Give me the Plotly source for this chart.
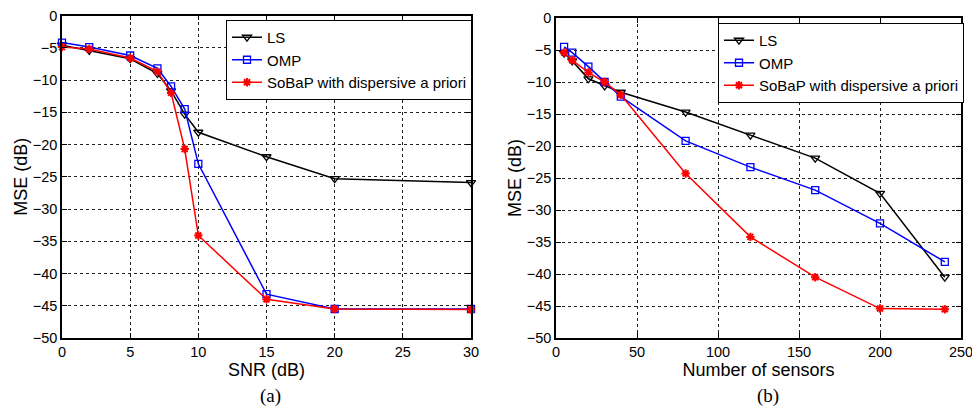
import plotly.graph_objects as go

# ---- data: panel (a) MSE vs SNR ----
snr = [0, 2, 5, 7, 8, 9, 10, 15, 20, 30]
ls_a = [-4.6, -5.4, -6.7, -9.0, -11.7, -15.3, -18.1, -21.9, -25.3, -25.9]
omp_a = [-4.2, -4.9, -6.2, -8.2, -11.0, -14.5, -23.0, -43.2, -45.5, -45.5]
sobap_a = [-4.9, -5.2, -6.6, -8.7, -12.0, -20.7, -34.1, -44.0, -45.5, -45.6]

# ---- data: panel (b) MSE vs number of sensors ----
sensors = [5, 10, 20, 30, 40, 80, 120, 160, 200, 240]
ls_b = [-5.5, -6.7, -9.5, -10.6, -11.6, -14.7, -18.3, -21.9, -27.4, -40.5]
omp_b = [-4.5, -5.4, -7.6, -10.0, -12.3, -19.2, -23.3, -26.9, -32.1, -38.1]
sobap_b = [-5.4, -6.6, -8.5, -10.0, -12.0, -24.3, -34.2, -40.5, -45.4, -45.5]

names = ["LS", "OMP", "SoBaP with dispersive a priori"]
colors = ["#000000", "#0000ff", "#ff0000"]
symbols = ["triangle-down-open", "square-open", "asterisk-open"]
msizes = [8, 7, 7]

xticks_a = [0, 5, 10, 15, 20, 25, 30]
xticks_b = [0, 50, 100, 150, 200, 250]
yticks = [0, -5, -10, -15, -20, -25, -30, -35, -40, -45, -50]

# body margin is removed by the post script, so the figure fills the window
W, H = 972, 409


def px(x):
    return x / W


def py(y):
    return 1 - y / H


fig = go.Figure()


def add(xs, ys, i, xa, ya, leg):
    fig.add_trace(go.Scatter(
        x=xs, y=ys, name=names[i], mode="lines+markers",
        line=dict(color=colors[i], width=1.5),
        marker=dict(symbol=symbols[i], size=msizes[i], color=colors[i],
                    line=dict(color=colors[i], width=2 if i == 2 else 1.3)),
        xaxis=xa, yaxis=ya, legend=leg, cliponaxis=False))


for i, ys in enumerate([ls_a, omp_a, sobap_a]):
    add(snr, ys, i, "x", "y", "legend")
for i, ys in enumerate([ls_b, omp_b, sobap_b]):
    add(sensors, ys, i, "x2", "y2", "legend2")

font_tick = dict(family="Liberation Sans, Arial, sans-serif", size=14.5, color="black")
font_title = dict(family="Liberation Sans, Arial, sans-serif", size=18, color="black")


def xax(dom, rng, ticks, title, anchor):
    return dict(domain=dom, range=rng, tickvals=ticks, ticktext=[str(t) for t in ticks],
                showline=True, linecolor="black", linewidth=1.5, mirror="allticks",
                ticks="inside", ticklen=5, tickcolor="black", tickwidth=1,
                showgrid=True, gridcolor="#222", griddash="dot", gridwidth=1,
                zeroline=False, tickfont=font_tick, anchor=anchor, automargin=False,
                ticklabeloverflow="allow",
                title=dict(text=title, font=font_title, standoff=0))


def yax(dom, anchor, title):
    return dict(domain=dom, range=[-50, 0], tickvals=yticks,
                showline=True, linecolor="black", linewidth=1.5, mirror="allticks",
                ticks="inside", ticklen=5, tickcolor="black", tickwidth=1,
                showgrid=True, gridcolor="#222", griddash="dot", gridwidth=1,
                zeroline=False, tickfont=font_tick, anchor=anchor, automargin=False,
                ticklabeloverflow="allow",
                title=dict(text=title, font=font_title, standoff=0))


legfont = dict(family="Liberation Sans, Arial, sans-serif", size=15, color="black")
capfont = dict(family="Liberation Serif, Times New Roman, serif", size=19, color="black")

fig.update_layout(
    width=W, height=H, margin=dict(l=0, r=0, t=0, b=0),
    paper_bgcolor="white", plot_bgcolor="white", showlegend=True,
    xaxis=xax([px(62), px(471)], [0, 30], xticks_a, "SNR (dB)", "y"),
    yaxis=yax([py(338), py(15.5)], "x", "MSE (dB)"),
    xaxis2=xax([px(556), px(961)], [0, 250], xticks_b, "Number of sensors", "y2"),
    yaxis2=yax([py(338), py(18)], "x2", "MSE (dB)"),
    legend=dict(x=px(226), y=py(20), xanchor="left", yanchor="top",
                bgcolor="white", bordercolor="black", borderwidth=1,
                font=legfont, itemwidth=30, tracegroupgap=0),
    legend2=dict(x=px(718), y=py(23), xanchor="left", yanchor="top",
                 bgcolor="white", bordercolor="black", borderwidth=1,
                 font=legfont, itemwidth=30, tracegroupgap=0),
    annotations=[
        dict(text="(a)", x=px(270), y=py(396), xref="paper", yref="paper",
             xanchor="center", yanchor="middle", showarrow=False, font=capfont),
        dict(text="(b)", x=px(768), y=py(396), xref="paper", yref="paper",
             xanchor="center", yanchor="middle", showarrow=False, font=capfont),
    ],
)

fig.write_html(
    "out.html",
    config={"displayModeBar": False},
    post_script="document.body.style.margin='0';document.body.style.overflow='hidden';",
)
